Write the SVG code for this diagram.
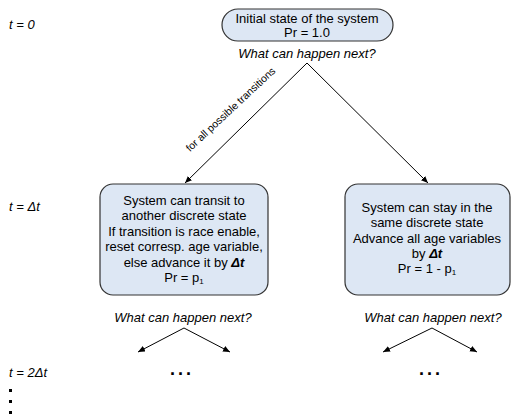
<svg xmlns="http://www.w3.org/2000/svg" width="511" height="417" viewBox="0 0 511 417">
<style>
  .t { font-family: "Liberation Sans", Arial, sans-serif; font-size: 13px; fill: #000; }
  .c { text-anchor: middle; }
  .i { font-style: italic; }
  .box { fill: #dde7f4; stroke: #333; stroke-width: 1.2; }
  .ln { stroke: #000; stroke-width: 1; fill: none; marker-end: url(#ah); }
  .dt { font-style: italic; font-weight: bold; }
</style>
<defs>
  <marker id="ah" markerWidth="8" markerHeight="8" refX="7" refY="3" orient="auto" markerUnits="userSpaceOnUse">
    <path d="M0,0 L7,3 L0,6 Z" fill="#000"/>
  </marker>
</defs>
<rect width="511" height="417" fill="#fff"/>

<g id="time-labels">
  <text class="t i" x="9" y="29">t = 0</text>
  <text class="t i" x="9" y="211">t = Δt</text>
  <text class="t i" x="9" y="376.5">t = 2Δt</text>
  <rect x="9" y="389" width="3" height="3" fill="#000"/>
  <rect x="9" y="400" width="3" height="3" fill="#000"/>
  <rect x="9" y="411" width="3" height="3" fill="#000"/>
</g>

<g id="connectors">
  <line class="ln" x1="307" y1="63" x2="185" y2="183"/>
  <line class="ln" x1="307" y1="63" x2="428" y2="183"/>
  <line class="ln" x1="184" y1="328" x2="138" y2="352"/>
  <line class="ln" x1="184" y1="328" x2="230" y2="352"/>
  <line class="ln" x1="432" y1="328" x2="383" y2="352"/>
  <line class="ln" x1="432" y1="328" x2="477" y2="352"/>
  <text class="t" transform="translate(233,112) rotate(-43)" text-anchor="middle" style="font-size:10.5px">for all possible transitions</text>
</g>

<g id="initial">
  <rect class="box" x="222" y="9" width="171" height="32" rx="16" ry="16"/>
  <text class="t c" x="307" y="23">Initial state of the system</text>
  <text class="t c" x="307" y="37">Pr = 1.0</text>
  <text class="t c i" x="307" y="58">What can happen next?</text>
</g>

<g id="transit">
  <rect class="box" x="100" y="184" width="168" height="111" rx="13" ry="13"/>
  <text class="t c" x="184" y="204.5">System can transit to</text>
  <text class="t c" x="184" y="220">another discrete state</text>
  <text class="t c" x="184" y="235.5">If transition is race enable,</text>
  <text class="t c" x="184" y="251">reset corresp. age variable,</text>
  <text class="t c" x="184" y="266.5">else advance it by <tspan class="dt">Δt</tspan></text>
  <text class="t c" x="184" y="281.5">Pr = p<tspan font-size="8" dy="2">1</tspan></text>
</g>

<g id="stay">
  <rect class="box" x="345" y="184" width="165" height="111" rx="13" ry="13"/>
  <text class="t c" x="427" y="211.5">System can stay in the</text>
  <text class="t c" x="427" y="227">same discrete state</text>
  <text class="t c" x="427" y="242.5">Advance all age variables</text>
  <text class="t c" x="427" y="258">by <tspan class="dt">Δt</tspan></text>
  <text class="t c" x="427" y="273">Pr = 1 - p<tspan font-size="8" dy="2">1</tspan></text>
</g>

<g id="next-left">
  <text class="t c i" x="183" y="321.5">What can happen next?</text>
  <text class="t c" x="182" y="375" style="font-size:18px;font-weight:bold;letter-spacing:3px">...</text>
</g>

<g id="next-right">
  <text class="t c i" x="433" y="321.5">What can happen next?</text>
  <text class="t c" x="431" y="375" style="font-size:18px;font-weight:bold;letter-spacing:3px">...</text>
</g>
</svg>
